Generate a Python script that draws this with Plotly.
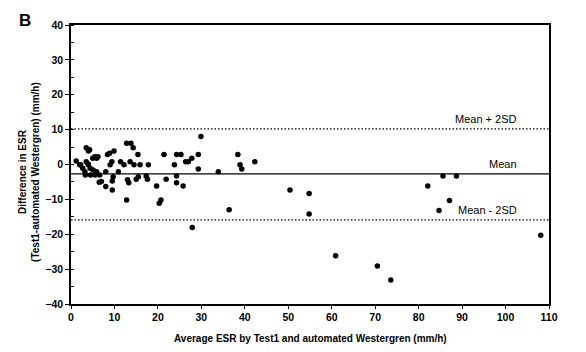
import plotly.graph_objects as go

# Data
avg_esr = [1.2, 2.0, 2.2, 2.7, 3.2, 3.3, 3.5, 3.5, 3.9, 4.0, 4.0, 4.3, 4.4, 4.5, 5.0, 5.1, 5.5, 5.5,
           5.9, 5.9, 6.2, 6.5, 6.6, 7.0, 8.0, 8.0, 8.4, 8.9, 9.0, 9.4, 9.5, 9.5, 9.9, 9.7, 10.9,
           11.4, 12.2, 12.8, 12.8, 13.0, 13.3, 13.6, 13.8, 14.3, 14.5, 15.0, 15.4, 15.5, 15.9,
           17.3, 17.6, 17.8, 19.7, 20.3, 20.7, 21.4, 21.9, 23.8, 24.3, 24.3, 24.3, 25.3, 25.8,
           26.4, 27.0, 27.8, 27.9, 29.3, 29.3, 29.9, 33.9, 36.4, 38.4, 38.9, 39.3, 42.3,
           50.4, 54.8, 54.8, 60.9, 70.5, 73.6, 82.1, 84.7, 85.6, 87.1, 88.7, 108.1]
difference = [1.0, -0.1, -0.1, -1.1, -2.1, -3.0, 0.8, 4.8, 0.2, 3.9, -0.1, 4.2, -1.1, -3.0, 1.8, -1.6, -3.0, 2.2,
              1.8, -2.1, 2.2, -5.1, -3.0, -4.9, -6.3, -2.1, 2.9, 3.2, -0.1, 0.8, -4.7, -7.3, 3.9, -3.5, -2.1,
              0.8, -0.1, -10.2, 6.1, -4.4, -5.2, 0.8, 6.1, 4.8, -0.1, -4.2, 2.9, -3.5, -0.1,
              -3.3, -4.2, -0.1, -6.2, -11.1, -10.2, 2.9, -4.2, -0.1, 2.9, -3.3, -5.2, 2.9, -6.2,
              0.8, 0.8, 1.8, -18.1, 2.9, -1.3, 8.0, -2.1, -13.0, 2.9, -0.1, -1.3, 0.8,
              -7.3, -8.3, -14.2, -26.2, -29.1, -33.1, -6.2, -13.2, -3.3, -10.3, -3.3, -20.3]

mean_diff = -2.7
upper_limit = 10.2
lower_limit = -15.9

x_ticks = [0, 10, 20, 30, 40, 50, 60, 70, 80, 90, 100, 110]
y_ticks = [-40, -30, -20, -10, 0, 10, 20, 30, 40]

FONT = "Liberation Sans, Arial, sans-serif"

fig = go.Figure()
fig.add_trace(go.Scatter(
    x=avg_esr, y=difference, mode="markers",
    marker=dict(color="black", size=5.5, line=dict(width=0)),
    showlegend=False, hoverinfo="x+y"))

# Mean and limits lines
fig.add_shape(type="line", xref="x", yref="y", x0=0, x1=110, y0=mean_diff, y1=mean_diff,
              line=dict(color="black", width=1.3))
for val in (upper_limit, lower_limit):
    fig.add_shape(type="line", xref="x", yref="y", x0=0, x1=110, y0=val, y1=val,
                  line=dict(color="black", width=1.3, dash="1.5px,2px"))

lab_font = dict(family=FONT, size=11, color="black")
for txt, val in (("Mean + 2SD", upper_limit), ("Mean", mean_diff), ("Mean - 2SD", lower_limit)):
    fig.add_annotation(x=103, y=val, xref="x", yref="y", text=txt, showarrow=False,
                       xanchor="right", yanchor="bottom", yshift=2, font=lab_font)

# Panel letter
fig.add_annotation(x=-0.097, y=1.015, xref="paper", yref="paper", text="<b>B</b>", showarrow=False,
                   xanchor="center", yanchor="middle", font=dict(family=FONT, size=17, color="black"))

# Axis titles as annotations
fig.add_annotation(x=-0.087, y=0.475, xref="paper", yref="paper",
                   text="<b>Difference in ESR<br>(Test1-automated Westergren) (mm/h)</b>",
                   textangle=-90, showarrow=False, xanchor="center", yanchor="middle",
                   font=dict(family=FONT, size=10, color="black"))
fig.add_annotation(x=0.5, y=-0.125, xref="paper", yref="paper",
                   text="<b>Average ESR by Test1 and automated Westergren (mm/h)</b>",
                   showarrow=False, xanchor="center", yanchor="middle",
                   font=dict(family=FONT, size=10, color="black"))

fig.update_layout(
    width=586, height=352,
    margin=dict(l=71, r=37, t=25, b=48),
    paper_bgcolor="white", plot_bgcolor="white",
    font=dict(family=FONT, size=10, color="black"),
)
fig.update_xaxes(range=[0, 110], tickvals=x_ticks, showgrid=False, zeroline=False,
                 showline=True, linecolor="black", linewidth=1.6, mirror=True,
                 ticks="outside", ticklen=3, tickcolor="black",
                 tickfont=dict(family=FONT, size=10.5, color="black", weight="bold"))
fig.update_yaxes(range=[-40, 40], tickvals=y_ticks, showgrid=False, zeroline=False,
                 showline=True, linecolor="black", linewidth=1.6, mirror=True,
                 ticks="outside", ticklen=4, tickcolor="black",
                 minor=dict(ticks="inside", dtick=5, ticklen=3, tickcolor="black", showgrid=False),
                 tickfont=dict(family=FONT, size=10.5, color="black", weight="bold"))

fig.write_html("out.html")
